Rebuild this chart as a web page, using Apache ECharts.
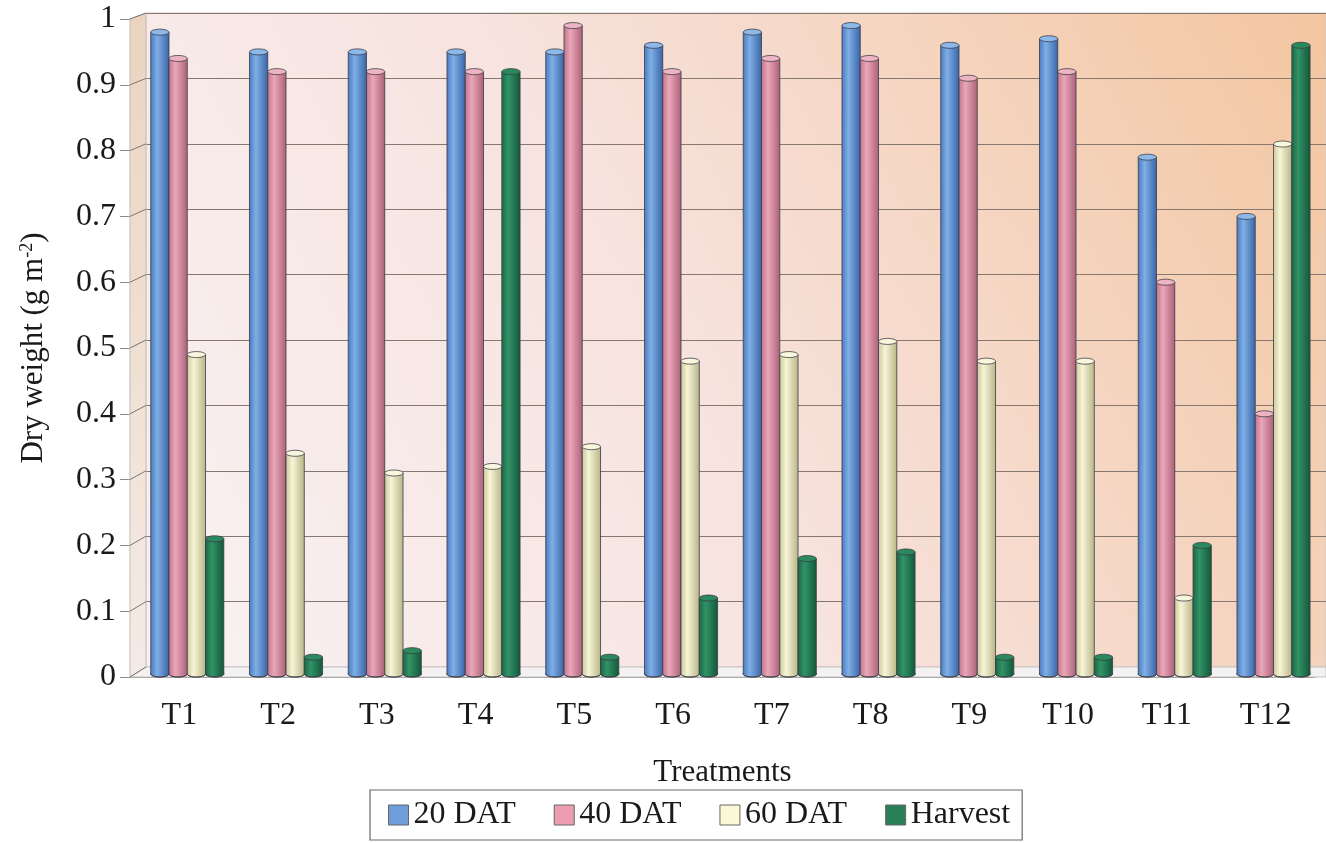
<!DOCTYPE html>
<html>
<head>
<meta charset="utf-8">
<script src="https://cdn.jsdelivr.net/npm/echarts@6/dist/echarts.min.js"></script>
<style>
  html, body { margin: 0; background: #fff; }
  #chart { width: 1326px; height: 843px; }
</style>
</head>
<body>
<div id="chart"></div>
<script>
const treatments = ["T1", "T2", "T3", "T4", "T5", "T6", "T7", "T8", "T9", "T10", "T11", "T12"];
const dat20 = [0.98, 0.95, 0.95, 0.95, 0.95, 0.96, 0.98, 0.99, 0.96, 0.97, 0.79, 0.70];
const dat40 = [0.94, 0.92, 0.92, 0.92, 0.99, 0.92, 0.94, 0.94, 0.91, 0.92, 0.60, 0.40];
const dat60 = [0.49, 0.34, 0.31, 0.32, 0.35, 0.48, 0.49, 0.51, 0.48, 0.48, 0.12, 0.81];
const harvest = [0.21, 0.03, 0.04, 0.92, 0.03, 0.12, 0.18, 0.19, 0.03, 0.03, 0.20, 0.96];
const seriesNames = ["20 DAT", "40 DAT", "60 DAT", "Harvest"];
const yTicks = [0, 0.1, 0.2, 0.3, 0.4, 0.5, 0.6, 0.7, 0.8, 0.9, 1];

const FONT = "'Liberation Serif', 'Times New Roman', serif";

// cylinder palettes (edge / highlight / shadow / cap / legend)
const palettes = [
  { edge: "#4a7cc2", light: "#80afe6", dark: "#3a66a8", cap: "#8db8ea", legend: "#6d9ddb" },
  { edge: "#c47690", light: "#eaa7b8", dark: "#ad627a", cap: "#efb4c3", legend: "#ec9db0" },
  { edge: "#cdca9e", light: "#f7f5d6", dark: "#b9b68a", cap: "#f8f6dc", legend: "#fbf8d6" },
  { edge: "#196a47", light: "#329366", dark: "#13593b", cap: "#2a8a5d", legend: "#2a7f58" },
];

function cylinder(k, pal) {
  return function (params, api) {
    const idx = api.value(0);
    const v = api.value(1);
    const base = api.coord([idx, 0]);
    const top = api.coord([idx, v]);
    const band = api.size([1, 0])[0];
    const w = band * 0.185;
    const x = base[0] - band / 2 + band * 0.21 + k * w;
    const cx = x + w / 2;
    const ry = 3;
    const yb = base[1] - 3;
    const yt = Math.min(top[1], yb - 1);
    const grad = new echarts.graphic.LinearGradient(0, 0, 1, 0, [
      { offset: 0, color: pal.edge },
      { offset: 0.35, color: pal.light },
      { offset: 1, color: pal.dark },
    ]);
    const line = "#3b3b45";
    return {
      type: "group",
      children: [
        { type: "ellipse", shape: { cx: cx, cy: yb, rx: w / 2, ry: ry }, style: { fill: grad, stroke: line, lineWidth: 0.8 } },
        { type: "rect", shape: { x: x, y: yt, width: w, height: yb - yt }, style: { fill: grad } },
        { type: "line", shape: { x1: x, y1: yt, x2: x, y2: yb }, style: { stroke: line, lineWidth: 0.8 } },
        { type: "line", shape: { x1: x + w, y1: yt, x2: x + w, y2: yb }, style: { stroke: line, lineWidth: 0.8 } },
        { type: "ellipse", shape: { cx: cx, cy: yt, rx: w / 2, ry: ry }, style: { fill: pal.cap, stroke: line, lineWidth: 0.8 } },
      ],
    };
  };
}

const allValues = [dat20, dat40, dat60, harvest];

const chart = echarts.init(document.getElementById("chart"), null, { renderer: "canvas" });

const wallGradient = new echarts.graphic.LinearGradient(0, 1, 1, 0, [
  { offset: 0, color: "#f9f2f3" },
  { offset: 0.45, color: "#f7e3df" },
  { offset: 1, color: "#f3c6a0" },
]);

chart.setOption({
  backgroundColor: "#ffffff",
  animation: false,
  textStyle: { fontFamily: FONT, color: "#1a1a1a" },
  grid: [
    { left: 130, right: 11, top: 19, bottom: 166 },
    {
      left: 146, right: 0, top: 13, bottom: 176,
      show: true, backgroundColor: wallGradient, borderColor: "#cfc9c9", borderWidth: 1, z: 0,
    },
  ],
  xAxis: [
    {
      type: "category",
      gridIndex: 0,
      data: treatments,
      axisLine: { lineStyle: { color: "#8c8c8c", width: 1.2 } },
      axisTick: { length: 12, lineStyle: { color: "#8c8c8c" } },
      axisLabel: { fontSize: 32, fontFamily: FONT, color: "#1a1a1a", margin: 23 },
      name: "Treatments",
      nameLocation: "middle",
      nameGap: 80,
      nameTextStyle: { fontSize: 31, fontFamily: FONT, color: "#1a1a1a" },
    },
    { type: "value", gridIndex: 1, min: 0, max: 1, show: false },
  ],
  yAxis: [
    {
      type: "value",
      gridIndex: 0,
      min: 0,
      max: 1,
      interval: 0.1,
      axisLine: { show: true, lineStyle: { color: "#8c8c8c", width: 1.2 } },
      axisTick: { show: true, length: 10, lineStyle: { color: "#8c8c8c" } },
      splitLine: { show: false },
      axisLabel: {
        fontSize: 32, fontFamily: FONT, color: "#1a1a1a", margin: 14,
        formatter: (v) => (v === 0 || v === 1 ? String(v) : v.toFixed(1)),
      },
      name: "Dry weight (g m{sup|-2})",
      nameLocation: "middle",
      nameGap: 80,
      nameTextStyle: {
        fontSize: 31, fontFamily: FONT, color: "#1a1a1a",
        rich: { sup: { fontSize: 18, fontFamily: FONT, color: "#1a1a1a", verticalAlign: "top", padding: [0, 0, 14, 0] } },
      },
    },
    {
      type: "value",
      gridIndex: 1,
      min: 0,
      max: 1,
      interval: 0.1,
      axisLine: { show: false },
      axisTick: { show: false },
      axisLabel: { show: false },
      splitLine: { show: true, lineStyle: { color: "#86786f", width: 1 } },
    },
  ],
  legend: {
    data: seriesNames,
    left: 370,
    top: 790,
    padding: [9, 12, 9, 18],
    borderColor: "#6a6a6a",
    borderWidth: 1.2,
    itemWidth: 20,
    itemHeight: 20,
    itemGap: 38,
    icon: "rect",
    itemStyle: { borderColor: "#666", borderWidth: 1 },
    textStyle: { fontSize: 32, fontFamily: FONT, color: "#1a1a1a" },
  },
  series: seriesNames.map((name, k) => ({
    name: name,
    type: "custom",
    xAxisIndex: 0,
    yAxisIndex: 0,
    itemStyle: { color: palettes[k].legend },
    encode: { x: 0, y: 1 },
    data: treatments.map((t, i) => [i, allValues[k][i]]),
    renderItem: cylinder(k, palettes[k]),
    z: 5,
  })),
});

// side wall, floor and the slanted depth lines from ticks to the back wall
const frontTop = chart.convertToPixel({ yAxisIndex: 0 }, 1);
const frontBottom = chart.convertToPixel({ yAxisIndex: 0 }, 0);
const backTop = chart.convertToPixel({ yAxisIndex: 1 }, 1);
const backBottom = chart.convertToPixel({ yAxisIndex: 1 }, 0);
const frontX = 130, backX = 146, rightX = 1326;

const graphics = [
  {
    type: "polygon",
    shape: { points: [[frontX, frontBottom], [frontX, frontTop], [backX, backTop], [backX, backBottom]] },
    style: {
      fill: new echarts.graphic.LinearGradient(0, 0, 1, 1, [
        { offset: 0, color: "#ead4bf" },
        { offset: 1, color: "#f4ebe6" },
      ]),
      stroke: "#c9bfb8",
      lineWidth: 1,
    },
    z: 1,
  },
  {
    type: "polygon",
    shape: { points: [[frontX, frontBottom], [backX, backBottom], [rightX, backBottom], [rightX, frontBottom]] },
    style: { fill: "#f3f1f1", stroke: "#c9c4c4", lineWidth: 1 },
    z: 1,
  },
];
yTicks.forEach((v) => {
  const yf = chart.convertToPixel({ yAxisIndex: 0 }, v);
  const yb = chart.convertToPixel({ yAxisIndex: 1 }, v);
  graphics.push({
    type: "line",
    shape: { x1: frontX, y1: yf, x2: backX, y2: yb },
    style: { stroke: "#7d7470", lineWidth: 1 },
    z: 2,
  });
});
chart.setOption({ graphic: graphics });
</script>
</body>
</html>
